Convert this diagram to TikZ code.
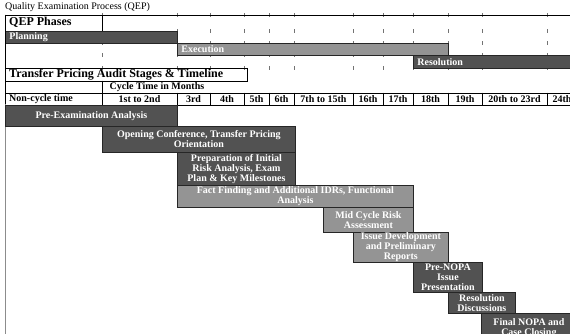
\documentclass[tikz,border=0pt]{standalone}
\usepackage{fontspec}
\setmainfont{Liberation Serif}

\begin{document}
\begin{tikzpicture}[x=1pt, y=-1pt, line cap=rect]

% ------------------------------------------------
% Styles
% ------------------------------------------------
\tikzset{
    grid/.style={line width=0.7pt, black},
    tick/.style={line width=0.5pt, black!55},
    edge/.style={line width=1.6pt, black!45},
    bar/.style={draw=black!85, line width=0.8pt, anchor=north west,
        text=white, inner sep=0pt, align=center,
        font=\bfseries\fontsize{10}{10}\selectfont},
    darkbar/.style={bar, fill=black!68},
    lightbar/.style={bar, fill=black!42},
    phase/.style={inner xsep=4pt, align=left},
    cell/.style={inner sep=0pt, font=\bfseries\fontsize{10}{10}\selectfont},
    head/.style={inner sep=0pt, anchor=west, font=\bfseries\fontsize{12}{12}\selectfont},
    caption/.style={inner sep=0pt, anchor=west, font=\fontsize{10}{10}\selectfont},
}

\useasboundingbox (0,0) rectangle (570,334);
\clip (0,0) rectangle (570,334);

% ------------------------------------------------
% Title and QEP phases
% ------------------------------------------------
\node[caption] (title) at (5,7.5) {Quality Examination Process (QEP)};

% small grid ticks
\foreach \cx in {102,177,210,244,269,294,353,383,413,448,482,547}{
    \foreach \ry in {15,31,43,55,68}{
        \draw[tick] (\cx,\ry-1.5) -- (\cx,\ry+1.5);
    }
}

\draw[grid] (5,15) -- (570,15);
\draw[grid] (102,15) -- (102,31);
\node[head] (phases) at (9,22.5) {QEP Phases};

\node[darkbar, phase, minimum width=172, minimum height=12, text width=164]
    (planning) at (5,31) {Planning};
\node[lightbar, phase, minimum width=271, minimum height=12, text width=263]
    (execution) at (177,43) {Execution};
\node[darkbar, phase, minimum width=165, minimum height=13, text width=157]
    (resolution) at (413,55) {Resolution};

% ------------------------------------------------
% Stages & timeline header
% ------------------------------------------------
\draw[grid] (5,68) -- (247,68) -- (247,81) -- (5,81);
\node[head] (stages) at (9,74.5) {Transfer Pricing Audit Stages \& Timeline};

\draw[grid] (102,81) -- (102,93);
\node[cell] (cycle) at (157,87) {Cycle Time in Months};

\draw[grid] (5,93) rectangle (580,105);
\foreach \cx in {102,177,210,244,269,294,353,383,413,448,482,547}{
    \draw[grid] (\cx,93) -- (\cx,105);
}
\node[cell, anchor=west] (col0) at (9,99) {Non-cycle time};
\foreach \cx/\txt [count=\i] in {139.5/1st to 2nd,
        193.5/3rd, 227/4th, 256.5/5th, 281.5/6th, 323.5/7th to 15th,
        368/16th, 398/17th, 430.5/18th, 465/19th, 514.5/20th to 23rd, 562/24th}{
    \node[cell] (col\i) at (\cx,99) {\txt};
}

\draw[grid] (5,15) -- (5,105);
\draw[edge] (5.5,105) -- (5.5,334);

% ------------------------------------------------
% Audit stages
% ------------------------------------------------
\node[darkbar, minimum width=172, minimum height=21] (preexam) at (5,105)
    {Pre-Examination Analysis};
\node[darkbar, minimum width=193, minimum height=26] (opening) at (102,126)
    {Opening Conference, Transfer Pricing\\Orientation};
\node[darkbar, minimum width=118, minimum height=33] (prep) at (177,152)
    {Preparation of Initial\\Risk Analysis, Exam\\Plan \& Key Milestones};
\node[lightbar, minimum width=236, minimum height=22] (fact) at (177,185)
    {Fact Finding and Additional IDRs, Functional\\Analysis};
\node[lightbar, minimum width=90, minimum height=25] (midcycle) at (323,207)
    {Mid Cycle Risk\\Assessment};
\node[lightbar, minimum width=95, minimum height=30] (issue) at (353,232)
    {Issue Development\\and Preliminary\\Reports};
\node[darkbar, minimum width=69, minimum height=30] (prenopa) at (413,262)
    {Pre-NOPA\\Issue\\Presentation};
\node[darkbar, minimum width=67, minimum height=21] (discuss) at (448,292)
    {Resolution\\Discussions};
\node[darkbar, minimum width=95, minimum height=30] (final) at (481,313)
    {Final NOPA and\\Case Closing};

\end{tikzpicture}
\end{document}
